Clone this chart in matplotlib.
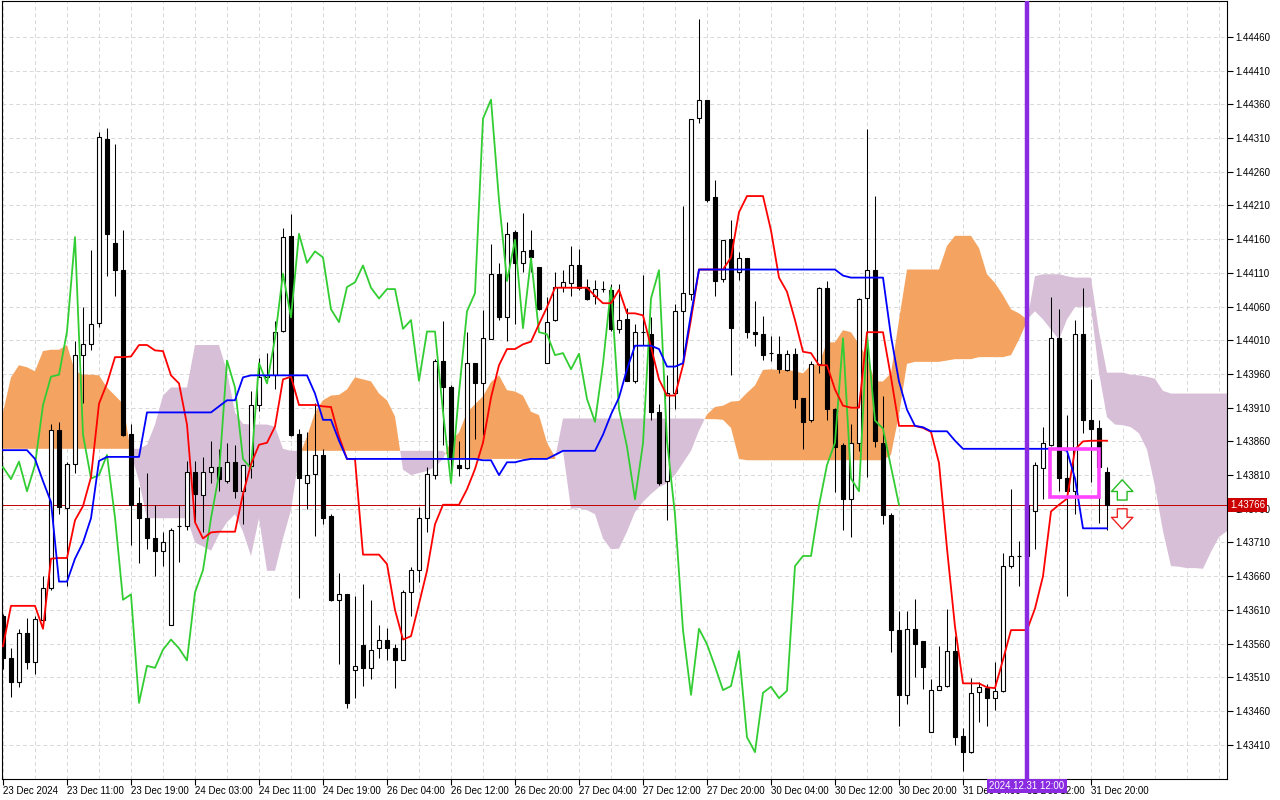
import numpy as np
import matplotlib
matplotlib.use('Agg')
import matplotlib.pyplot as plt
from matplotlib.patches import Rectangle
from matplotlib.transforms import blended_transform_factory

plt.rcParams['font.family'] = ['Liberation Sans', 'DejaVu Sans']

# hourly candles, prices in points (1e-5)
open_pts = [
    143601, 143538, 143503, 143575, 143533, 143595, 143642, 143877, 143761, 143826,
    143988, 144005, 144036, 144308, 144154, 144114, 143871, 143768, 143746, 143717,
    143698, 143588, 143734, 143734, 143814, 143781, 143814, 143822, 143801, 143830,
    143786, 143824, 143914, 143955, 143958, 144024, 144165, 143871, 143799, 143811,
    143840, 143749, 143625, 143633, 143521, 143558, 143524, 143554, 143566, 143553,
    143535, 143636, 143669, 143746, 143810, 143980, 143940, 143825, 143820, 143976,
    143946, 144012, 144109, 144044, 144170, 144125, 144144, 144119, 143976, 144040,
    144089, 144095, 144121, 144089, 144076, 144086, 144085, 144027, 144041, 143949,
    144023, 144020, 143904, 143801, 143932, 144053, 144078, 144340, 144366, 144222,
    144101, 144161, 144111, 144132, 144022, 144019, 143991, 143990, 143966, 143990,
    143924, 143892, 143975, 144088, 143908, 143854, 143774, 143857, 144073, 144115,
    143858, 143751, 143580, 143484, 143582, 143564, 143429, 143491, 143497, 143549,
    143423, 143399, 143488, 143494, 143479, 143490, 143675, 143690, 143690, 143756,
    143820, 143855, 144014, 143806, 143786, 144019, 143892, 143880, 143814]
high_pts = [
    143604, 143553, 143581, 143598, 143601, 143661, 143886, 143889, 143829, 144009,
    144059, 144144, 144319, 144325, 144301, 144174, 143886, 143793, 143813, 143765,
    143725, 143732, 143765, 143831, 143831, 143837, 143860, 143849, 143858, 143854,
    143825, 143935, 143983, 143991, 144038, 144177, 144197, 143879, 143874, 143917,
    143848, 143752, 143665, 143634, 143631, 143648, 143625, 143587, 143583, 143560,
    143640, 143674, 143763, 143822, 143982, 144038, 143943, 143860, 144023, 143976,
    144055, 144153, 144124, 144185, 144173, 144199, 144173, 144119, 144074, 144112,
    144114, 144150, 144145, 144101, 144099, 144098, 144093, 144093, 144058, 144034,
    144107, 144044, 143916, 143958, 144064, 144209, 144339, 144487, 144367, 144248,
    144159, 144188, 144141, 144132, 144068, 144046, 144016, 144016, 143996, 143999,
    143924, 143979, 144089, 144098, 143910, 143858, 143886, 144073, 144324, 144224,
    143928, 143754, 143609, 143608, 143626, 143564, 143507, 143556, 143612, 143571,
    143435, 143509, 143503, 143500, 143533, 143695, 143789, 143712, 143780, 143830,
    143882, 144074, 144056, 143899, 144040, 144088, 143952, 143892, 143822]
low_pts = [
    143522, 143481, 143495, 143522, 143515, 143589, 143640, 143752, 143646, 143813,
    143917, 143996, 144030, 144105, 144075, 143868, 143707, 143680, 143701, 143660,
    143675, 143588, 143681, 143728, 143742, 143725, 143799, 143787, 143798, 143776,
    143737, 143805, 143905, 143952, 143938, 144023, 143868, 143627, 143760, 143719,
    143737, 143623, 143529, 143465, 143480, 143497, 143507, 143538, 143536, 143494,
    143535, 143601, 143652, 143725, 143804, 143855, 143801, 143808, 143819, 143864,
    143870, 144012, 144040, 144009, 144034, 144112, 144112, 144055, 143976, 144038,
    144082, 144076, 144085, 144070, 144064, 144082, 144024, 144021, 143949, 143946,
    144003, 143891, 143795, 143743, 143908, 143979, 144070, 144333, 144215, 144076,
    144097, 143958, 144099, 144014, 144002, 143981, 143979, 143962, 143964, 143909,
    143848, 143889, 143961, 143892, 143785, 143728, 143718, 143846, 143807, 143851,
    143737, 143547, 143438, 143471, 143511, 143493, 143429, 143491, 143496, 143409,
    143371, 143398, 143443, 143437, 143462, 143488, 143672, 143645, 143680, 143701,
    143775, 143853, 143787, 143631, 143752, 143873, 143800, 143739, 143728]
close_pts = [
    143538, 143503, 143575, 143533, 143597, 143643, 143877, 143763, 143826, 143988,
    144004, 144034, 144311, 144168, 144115, 143870, 143766, 143746, 143717, 143697,
    143710, 143728, 143734, 143814, 143782, 143814, 143822, 143804, 143830, 143786,
    143825, 143914, 143956, 143959, 144023, 144163, 143870, 143805, 143810, 143840,
    143747, 143625, 143633, 143472, 143527, 143524, 143551, 143566, 143553, 143535,
    143636, 143669, 143746, 143811, 143980, 143940, 143834, 143820, 143976, 143946,
    144013, 144109, 144044, 144168, 144125, 144142, 144133, 144056, 144037, 144089,
    144096, 144121, 144088, 144072, 144086, 144086, 144027, 144040, 143950, 144023,
    144023, 143904, 143798, 143932, 144053, 144080, 144339, 144367, 144218, 144098,
    144159, 144028, 144132, 144022, 144019, 143988, 143991, 143967, 143990, 143923,
    143889, 143975, 144088, 143908, 143852, 143774, 143857, 144072, 144114, 143861,
    143751, 143580, 143484, 143582, 143559, 143526, 143491, 143497, 143549, 143421,
    143399, 143487, 143496, 143479, 143490, 143675, 143690, 143690, 143765, 143825,
    143858, 144013, 143805, 143786, 144019, 143891, 143879, 143822, 143766]

# Ichimoku lines (per bar, points)
tenkan_pts = [
    143556, 143616, 143616, 143616, 143616, 143582, 143686, 143687, 143687, 143743,
    143764, 143807, 143916, 143946, 143985, 143985, 143986, 144003, 144003, 143995,
    143994, 143958, 143946, 143885, 143740, 143716, 143725, 143726, 143726, 143726,
    143782, 143826, 143855, 143858, 143882, 143952, 143956, 143914, 143914, 143914,
    143912, 143911, 143867, 143834, 143834, 143692, 143692, 143692, 143678, 143610,
    143566, 143571, 143619, 143668, 143737, 143766, 143766, 143766, 143789, 143819,
    143858, 143925, 143973, 143997, 143997, 144004, 144008, 144034, 144059, 144088,
    144088, 144088, 144088, 144088, 144076, 144065, 144065, 144085, 144050, 144050,
    144047, 144000, 143952, 143928, 143928, 143973, 144041, 144115, 144115, 144115,
    144115, 144133, 144200, 144224, 144224, 144224, 144173, 144103, 144082, 144040,
    143993, 143991, 143973, 143973, 143937, 143913, 143910, 143910, 144022, 144022,
    144022, 143955, 143883, 143883, 143883, 143880, 143874, 143828, 143701, 143585,
    143501, 143501, 143501, 143495, 143494, 143536, 143580, 143580, 143580, 143612,
    143660, 143756, 143766, 143775, 143848, 143860, 143861, 143861, 143861]
kijun_pts = [
    143847, 143847, 143847, 143847, 143834, 143801, 143770, 143652, 143652, 143686,
    143710, 143746, 143831, 143837, 143837, 143837, 143837, 143837, 143903, 143903,
    143903, 143903, 143903, 143903, 143903, 143903, 143903, 143912, 143921, 143921,
    143955, 143958, 143958, 143958, 143958, 143958, 143958, 143958, 143958, 143931,
    143892, 143892, 143861, 143834, 143834, 143834, 143834, 143834, 143834, 143834,
    143834, 143834, 143834, 143834, 143834, 143834, 143834, 143834, 143834, 143834,
    143832, 143832, 143810, 143829, 143829, 143832, 143834, 143834, 143834, 143840,
    143846, 143846, 143846, 143846, 143846, 143870, 143900, 143925, 143967, 144002,
    144002, 144002, 143997, 143971, 143971, 143976, 144049, 144115, 144115, 144115,
    144115, 144115, 144115, 144115, 144115, 144115, 144115, 144115, 144115, 144115,
    144115, 144115, 144115, 144115, 144115, 144106, 144103, 144103, 144103, 144103,
    144103, 144016, 143949, 143907, 143883, 143881, 143875, 143875, 143875, 143861,
    143849, 143849, 143849, 143849, 143849, 143849, 143849, 143849, 143849, 143849,
    143849, 143849, 143849, 143846, 143805, 143731, 143731, 143731, 143731]
# Senkou spans, already shifted 26 bars forward
span_a_pts = [
    143903, 143955, 143973, 143970, 143964, 143994, 143996, 143996, 144003, 143964,
    143959, 143959, 143958, 143940, 143928, 143916, 143843, 143801, 143746, 143746,
    143746, 143746, 143746, 143746, 143710, 143704, 143698, 143722, 143740, 143752,
    143726, 143690, 143746, 143668, 143668, 143716, 143758, 143837, 143867, 143903,
    143921, 143928, 143929, 143937, 143955, 143952, 143949, 143931, 143921, 143897,
    143818, 143810, 143813, 143816, 143822, 143834, 143861, 143873, 143903, 143915,
    143927, 143948, 143958, 143936, 143934, 143928, 143904, 143899, 143858, 143837,
    143846, 143760, 143761, 143758, 143752, 143716, 143700, 143701, 143726, 143755,
    143770, 143782, 143792, 143798, 143810, 143828, 143846, 143876, 143900, 143911,
    143913, 143919, 143920, 143932, 143943, 143966, 143967, 143966, 143966, 143964,
    143961, 143973, 143975, 144007, 144007, 144025, 144022, 144004, 143985, 143949,
    143949, 143961, 144040, 144115, 144115, 144115, 144115, 144115, 144150, 144165,
    144165, 144165, 144147, 144108, 144095, 144077, 144056, 144050, 144041, 144053,
    144041, 144026, 144011, 144041, 144059, 144060, 144059, 143962, 143896, 143885,
    143884, 143881, 143872, 143848, 143793, 143727, 143675, 143674, 143672, 143672,
    143671, 143696, 143718, 143727]
span_b_pts = [
    143849, 143849, 143849, 143849, 143849, 143849, 143849, 143849, 143849, 143849,
    143849, 143849, 143849, 143849, 143849, 143849, 143849, 143849, 143855, 143885,
    143928, 143940, 143940, 143940, 144003, 144003, 144003, 144003, 143964, 143903,
    143886, 143885, 143885, 143885, 143882, 143849, 143846, 143846, 143846, 143846,
    143846, 143846, 143846, 143846, 143846, 143846, 143846, 143846, 143846, 143846,
    143846, 143846, 143846, 143846, 143846, 143846, 143834, 143834, 143834, 143834,
    143834, 143834, 143834, 143834, 143834, 143834, 143834, 143834, 143834, 143834,
    143894, 143894, 143894, 143894, 143894, 143894, 143894, 143894, 143894, 143894,
    143894, 143894, 143894, 143894, 143894, 143894, 143894, 143894, 143893, 143893,
    143892, 143880, 143834, 143832, 143832, 143832, 143832, 143832, 143832, 143832,
    143832, 143832, 143832, 143832, 143832, 143832, 143832, 143832, 143832, 143832,
    143832, 143840, 143900, 143975, 143978, 143978, 143978, 143978, 143980, 143982,
    143982, 143982, 143985, 143985, 143985, 143985, 143988, 144011, 144038, 144105,
    144108, 144108, 144108, 144105, 144103, 144103, 144103, 144023, 143962, 143962,
    143962, 143959, 143958, 143956, 143953, 143935, 143931, 143931, 143931, 143931,
    143931, 143931, 143931, 143931]

chikou_shift = 26
time_labels = ['23 Dec 2024', '23 Dec 11:00', '23 Dec 19:00', '24 Dec 03:00',
               '24 Dec 11:00', '24 Dec 19:00', '26 Dec 04:00', '26 Dec 12:00',
               '26 Dec 20:00', '27 Dec 04:00', '27 Dec 12:00', '27 Dec 20:00',
               '30 Dec 04:00', '30 Dec 12:00', '30 Dec 20:00', '31 Dec 04:00',
               '31 Dec 12:00', '31 Dec 20:00']
label_bars = list(range(0, 8 * len(time_labels), 8))
price_tick_pts = list(range(143410, 144461, 50))

last_price = 1.43766
marker_bar = 128
marker_text = '2024.12.31 12:00'
zone_bars = (130.9, 137.0)
zone_prices = (1.43777, 1.43848)
arrow_bar = 139.9
up_arrow = (1.43773, 1.43803)
down_arrow = (1.43760, 1.43730)

o = np.array(open_pts) / 1e5
h = np.array(high_pts) / 1e5
l = np.array(low_pts) / 1e5
c = np.array(close_pts) / 1e5
tenkan = np.array(tenkan_pts) / 1e5
kijun = np.array(kijun_pts) / 1e5
span_a = np.array(span_a_pts) / 1e5
span_b = np.array(span_b_pts) / 1e5
x = np.arange(len(c))
xc = np.arange(len(span_a))

fig = plt.figure(figsize=(12.8, 8), dpi=100)
ax = fig.add_axes([2 / 1280, 21 / 800, 1225 / 1280, 778 / 800])
ax.set_xlim(-0.125, 153.0)
ax.set_ylim(1.433591, 1.445134)

# grid
for gx in range(0, 154, 4):
    ax.axvline(gx, color='#d8d8d8', ls=(0, (4, 3)), lw=0.7, zorder=0)
for p in price_tick_pts:
    ax.axhline(p / 1e5, color='#d8d8d8', ls=(0, (4, 3)), lw=0.7, zorder=0)

# cloud
ax.fill_between(xc, span_a, span_b, where=span_a >= span_b, interpolate=True,
                color='#f4a460', lw=0, zorder=1)
ax.fill_between(xc, span_a, span_b, where=span_a < span_b, interpolate=True,
                color='#d8bfd8', lw=0, zorder=1)

ax.axhline(last_price, color='#c00000', lw=0.7, zorder=2)

# candles
up = c >= o
bottom = np.minimum(o, c)
height = np.abs(c - o)
ax.vlines(x, l, h, color='black', lw=0.75, zorder=3)
ax.bar(x[up], height[up], bottom=bottom[up], width=0.45, color='white',
       edgecolor='black', linewidth=0.8, zorder=4)
ax.bar(x[~up], height[~up], bottom=bottom[~up], width=0.45, color='black',
       edgecolor='black', linewidth=0.8, zorder=4)

# ichimoku lines
ax.plot(x - chikou_shift, c, color='#32cd32', lw=1.3, zorder=5)
ax.plot(x, tenkan, color='#ff0000', lw=1.3, zorder=5)
ax.plot(x, kijun, color='#0000ff', lw=1.3, zorder=5)

# objects
ax.axvline(marker_bar, color='#8a2be2', lw=3.2, zorder=6)
ax.add_patch(Rectangle((zone_bars[0], zone_prices[0]), zone_bars[1] - zone_bars[0],
                       zone_prices[1] - zone_prices[0], fill=False,
                       ec='#ff44ff', lw=2.6, zorder=7))
ax.annotate('', xy=(arrow_bar, up_arrow[1]), xytext=(arrow_bar, up_arrow[0]),
            arrowprops=dict(arrowstyle='simple,head_length=0.6,head_width=1.1,tail_width=0.5',
                            fc='white', ec='#22bb22', lw=1.0, mutation_scale=14,
                            shrinkA=0, shrinkB=0), zorder=7)
ax.annotate('', xy=(arrow_bar, down_arrow[1]), xytext=(arrow_bar, down_arrow[0]),
            arrowprops=dict(arrowstyle='simple,head_length=0.6,head_width=1.1,tail_width=0.5',
                            fc='white', ec='#ee2222', lw=1.0, mutation_scale=14,
                            shrinkA=0, shrinkB=0), zorder=7)

# axes
ax.yaxis.tick_right()
ax.set_yticks([p / 1e5 for p in price_tick_pts])
ax.set_yticklabels(['%.5f' % (p / 1e5) for p in price_tick_pts])
ax.set_xticks(label_bars)
ax.set_xticklabels(time_labels, ha='left')
ax.tick_params(axis='y', direction='out', length=4, width=0.8, labelsize=7, pad=2)
ax.tick_params(axis='x', direction='out', length=4, width=0.8, labelsize=7, pad=1)
for s in ax.spines.values():
    s.set_linewidth(0.8)
    s.set_color('black')

tr_y = blended_transform_factory(ax.transAxes, ax.transData)
ax.text(1.0 + 3 / 1225, last_price, '1.43766', transform=tr_y, ha='left', va='center',
        color='white', fontsize=7, zorder=10, clip_on=False,
        bbox=dict(boxstyle='square,pad=0.2', fc='#cc0000', ec='none'))
tr_x = blended_transform_factory(ax.transData, ax.transAxes)
ax.text(marker_bar, -0.003, marker_text, transform=tr_x, ha='center', va='top',
        color='white', fontsize=7, zorder=10, clip_on=False,
        bbox=dict(boxstyle='square,pad=0.2', fc='#8a2be2', ec='none'))

fig.savefig('out.png', dpi=100)
